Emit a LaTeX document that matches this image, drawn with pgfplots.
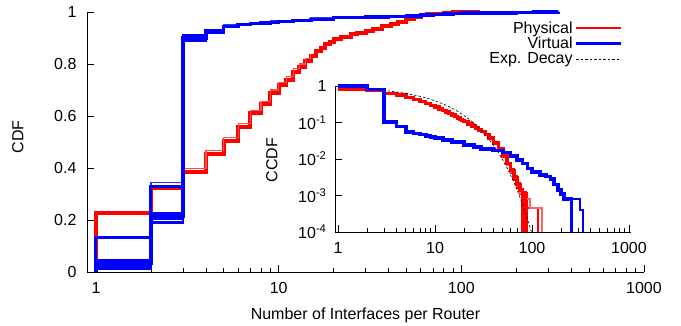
\documentclass[border=0pt]{standalone}
\usepackage{fontspec}
\setmainfont{Liberation Sans}
\usepackage{pgfplots}
\pgfplotsset{compat=1.18}
\definecolor{myred}{RGB}{255,0,0}
\definecolor{myblue}{RGB}{0,0,255}
\begin{document}
\fontsize{16bp}{17bp}\selectfont
\begin{tikzpicture}
\path[use as bounding box] (-87bp,-54bp) rectangle (594bp,272bp);
\begin{axis}[
  at={(0,0)}, anchor=south west, scale only axis,
  width=557bp, height=260bp,
  xmode=log, xmin=0.893, xmax=1000, ymin=0, ymax=1,
  axis x line*=bottom, axis y line*=left, tick align=inside,
  xtick={1,10,100,1000}, xticklabels={1,10,100,1000},
  ytick={0,0.2,0.4,0.6,0.8,1}, yticklabels={0,0.2,0.4,0.6,0.8,1},
  xticklabel style={yshift=-5bp}, yticklabel style={xshift=-5bp},
  major tick length=7bp, minor tick length=4bp,
  every tick/.style={black, line width=0.8bp},
  axis line style={line width=0.8bp, -},
  xlabel={Number of Interfaces per Router}, ylabel={CDF},
  every axis x label/.style={at={(axis description cs:0.5,-0.1846)}, anchor=base},
  every axis y label/.style={at={(axis description cs:-0.1144,0.519)}, anchor=base, rotate=90},
  clip=false, const plot,
  legend style={draw=none, fill=none, at={(0.962,0.972)}, anchor=north east,
    legend cell align=right, inner sep=0pt, row sep=-2.5bp,
    /tikz/every even column/.append style={column sep=13bp}},
  legend plot pos=right,
  legend image code/.code={\draw[#1] (0bp,0bp) -- (45bp,0bp);},
]
% Physical (red)
\addplot[myred, line width=4bp, forget plot] coordinates {
(1,0)(1,0.228)(2,0.325)(3,0.385)(4,0.455)(5,0.505)(6,0.558)(7,0.61)(8,0.645)(9,0.69)(10,0.72)(11,0.74)(12,0.77)(13,0.79)(14,0.81)(15,0.83)(16,0.85)(17,0.86)(18,0.875)(19,0.885)(20,0.895)(22,0.905)(25,0.915)(27,0.92)(30,0.928)(33,0.935)(37,0.945)(41,0.953)(45,0.962)(50,0.972)(55,0.98)(60,0.987)(65,0.991)(70,0.994)(80,0.997)(90,0.999)(100,1)(126,1)};
\addplot[myred!70, line width=1.2bp, forget plot] coordinates {
(2,0.333)(3,0.397)(4,0.467)(5,0.517)(6,0.57)(7,0.622)(8,0.657)(9,0.70)(10,0.73)(11,0.752)(12,0.782)(13,0.80)(14,0.82)(15,0.84)};
% Virtual (blue)
\addplot[myblue, line width=2.5bp, forget plot] coordinates {
(1,0)(1,0.013)(2,0.19)(3,0.888)(4,0.92)(5,0.94)};
\addplot[myblue, line width=2.5bp, forget plot] coordinates {
(1,0)(1,0.024)(2,0.205)(3,0.895)(4,0.922)(5,0.942)};
\addplot[myblue, line width=2.5bp, forget plot] coordinates {
(1,0)(1,0.045)(2,0.225)(3,0.905)(4,0.928)(5,0.948)};
\addplot[myblue!80, line width=1.3bp, forget plot] coordinates {
(1,0)(1,0.132)(2,0.345)(3,0.912)(4,0.932)(5,0.95)(6,0.957)(7,0.96)(8,0.963)(9,0.965)(10,0.968)(12,0.972)(15,0.977)(20,0.982)(30,0.985)(40,0.987)(50,0.989)(60,0.991)(70,0.993)(80,0.995)(90,0.996)(100,0.997)(150,0.998)(200,0.999)(250,0.9995)(340,1)};
\addplot[myblue, line width=3bp, forget plot] coordinates {
(1,0)(1,0.132)(2,0.33)(3,0.91)(4,0.93)(5,0.95)};
\addplot[myblue, line width=3.5bp, forget plot] coordinates {
(1,0)(1,0.035)(2,0.213)(3,0.90)(4,0.925)(5,0.945)(6,0.952)(7,0.955)(8,0.958)(9,0.96)(10,0.963)(12,0.967)(15,0.972)(20,0.978)(30,0.981)(40,0.983)(50,0.985)(60,0.988)(70,0.99)(80,0.992)(90,0.994)(100,0.9955)(150,0.997)(200,0.9989)(250,0.9995)(340,1)};
\addlegendimage{myred, line width=2bp}
\addlegendentry{Physical}
\addlegendimage{myblue, line width=3bp}
\addlegendentry{Virtual}
\addlegendimage{black, line width=0.6bp, dash pattern=on 2.5bp off 2bp}
\addlegendentry{Exp. Decay}
\end{axis}
\begin{axis}[
  at={(248bp,40bp)}, anchor=south west, scale only axis,
  width=296bp, height=146bp,
  xmode=log, ymode=log, xmin=0.93, xmax=1050, ymin=1e-4, ymax=1,
  axis x line*=bottom, axis y line*=left, tick align=inside,
  xtick={1,10,100,1000}, xticklabels={1,10,100,1000},
  ytick={1e-4,1e-3,1e-2,1e-1,1},
  yticklabels={10\textsuperscript{-4},10\textsuperscript{-3},10\textsuperscript{-2},10\textsuperscript{-1},1},
  xticklabel style={yshift=-5bp}, yticklabel style={xshift=-3bp},
  yminorticks=false,
  major tick length=7bp, minor tick length=4bp,
  every tick/.style={black, line width=0.8bp},
  axis line style={line width=0.8bp, -},
  ylabel={CCDF},
  every axis y label/.style={at={(axis description cs:-0.195,0.493)}, anchor=base, rotate=90},
  clip=false, const plot,
]
% Physical CCDF variants (tail)
\addplot[myred, line width=1.8bp] coordinates {
(30,0.056)(33,0.047)(36,0.038)(40,0.026)(45,0.017)(50,0.011)(55,0.0068)(60,0.0042)(65,0.0026)(70,0.0016)(75,0.0011)(79,0.0001)};
\addplot[myred, line width=1.8bp] coordinates {
(30,0.058)(33,0.05)(36,0.041)(40,0.03)(45,0.02)(50,0.013)(55,0.008)(60,0.0052)(65,0.0034)(70,0.0022)(75,0.0015)(80,0.0012)(89,0.0001)};
\addplot[myred, line width=1.8bp] coordinates {
(30,0.056)(33,0.048)(36,0.039)(40,0.028)(45,0.018)(50,0.012)(55,0.0075)(60,0.0045)(65,0.003)(70,0.002)(75,0.0013)(80,0.001)(89,0.00045)(115,0.0001)};
\addplot[myred!60, line width=1.8bp] coordinates {
(30,0.055)(33,0.047)(36,0.038)(40,0.027)(45,0.018)(50,0.0115)(55,0.007)(60,0.0044)(65,0.0028)(70,0.0018)(75,0.0012)(82,0.0008)(95,0.00045)(127,0.0001)};
\addplot[myred, line width=3.5bp] coordinates {
(1,0.80)(2,0.78)(3,0.63)(4,0.56)(5,0.49)(6,0.43)(7,0.375)(8,0.335)(9,0.295)(10,0.265)(11,0.237)(12,0.212)(13,0.193)(14,0.175)(15,0.158)(16,0.145)(17,0.133)(18,0.122)(19,0.113)(20,0.105)(22,0.091)(24,0.08)(26,0.07)(28,0.062)(30,0.056)(33,0.047)(36,0.038)(40,0.028)(45,0.019)(50,0.012)(55,0.0075)(60,0.0048)(65,0.003)(70,0.002)(75,0.0014)(80,0.0012)(85,0.0001)};
% Virtual CCDF
\addplot[myblue, line width=2bp] coordinates {
(100,0.0045)(120,0.0037)(140,0.0033)(155,0.0028)(170,0.002)(185,0.0014)(200,0.0011)(215,0.0008)(312,0.0004)(335,0.0001)};
\addplot[myblue, line width=3.8bp] coordinates {
(1,0.985)(2,0.80)(3,0.105)(4,0.078)(5,0.056)(6,0.05)(7,0.047)(8,0.043)(9,0.04)(10,0.037)(12,0.033)(15,0.029)(20,0.024)(25,0.021)(30,0.019)(40,0.017)(50,0.015)(60,0.012)(70,0.0095)(80,0.0075)(90,0.0055)(100,0.0045)(120,0.0037)(140,0.0033)(155,0.0028)(170,0.002)(185,0.0014)(200,0.0011)(215,0.0008)(256,0.0001)};
% Exponential decay
\addplot[black, line width=0.6bp, dash pattern=on 2.5bp off 2bp, sharp plot] coordinates {
(2.9,0.763)(3,0.756)(4,0.688)(5,0.627)(6,0.571)(7,0.520)(8,0.474)(9,0.431)(10,0.393)(12,0.326)(14,0.270)(16,0.224)(18,0.186)(20,0.154)(23,0.117)(26,0.088)(30,0.0606)(35,0.0380)(40,0.0238)(45,0.0149)(50,0.00934)(55,0.00585)(60,0.00367)(65,0.00230)(70,0.00144)(75,0.000903)(80,0.000566)(85,0.000355)(90,0.000222)(95,0.000139)(98.6,0.0001)};
\end{axis}
\end{tikzpicture}
\end{document}
